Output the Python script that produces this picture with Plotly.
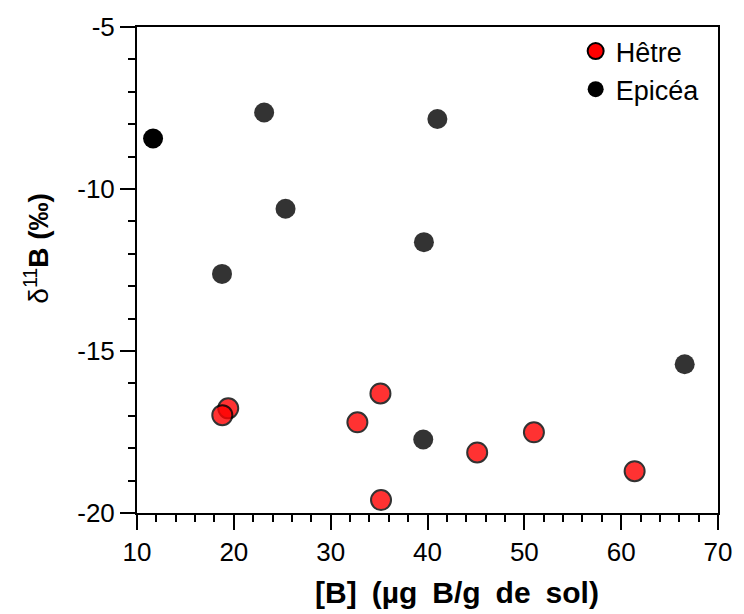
import plotly.graph_objects as go

# Data
hetre_x = [19.42, 18.81, 32.76, 35.14, 35.20, 45.13, 50.99, 61.39]
hetre_y = [-16.77, -16.98, -17.20, -16.31, -19.60, -18.13, -17.51, -18.71]

epicea_x = [11.66, 23.13, 25.34, 18.78, 41.02, 39.63, 39.56, 66.56]
epicea_y = [-8.44, -7.64, -10.61, -12.62, -7.84, -11.64, -17.73, -15.41]

x_ticks = [10, 20, 30, 40, 50, 60, 70]
x_tick_labels = ["10", "20", "30", "40", "50", "60", "70"]
y_ticks = [-20, -15, -10, -5]
y_tick_labels = ["-20", "-15", "-10", "-5"]

series_names = ["Hêtre", "Epicéa"]
x_title = "[B]\u2002(µg\u2002B/g\u2002de\u2002sol)"
y_title = "δ<sup>11</sup><b>B (‰)</b>"

FONT = "Liberation Sans, Arial, Helvetica, sans-serif"

# styles (kept apart from data)
epicea_colors = ["rgba(0,0,0,1)"] + ["rgba(0,0,0,0.8)"] * (len(epicea_x) - 1)

fig = go.Figure()

fig.add_trace(go.Scatter(
    x=epicea_x, y=epicea_y, mode="markers", showlegend=False,
    marker=dict(size=20, color=epicea_colors, line=dict(width=0)),
))
fig.add_trace(go.Scatter(
    x=hetre_x, y=hetre_y, mode="markers", showlegend=False,
    marker=dict(size=20, color="rgb(255,0,0)", opacity=0.8,
                line=dict(width=2, color="black")),
))

# legend-only entries
fig.add_trace(go.Scatter(
    x=[None], y=[None], mode="markers", name=series_names[0], legendgroup="a",
    marker=dict(size=20, color="rgb(255,0,0)", line=dict(width=2, color="black")),
))
fig.add_trace(go.Scatter(
    x=[None], y=[None], mode="markers", name=series_names[1], legendgroup="b",
    marker=dict(size=20, color="black", line=dict(width=0)),
))

axis_common = dict(
    showline=True, linecolor="black", linewidth=2, mirror=True,
    ticks="outside", ticklen=15, tickwidth=2, tickcolor="black",
    showgrid=False, zeroline=False,
    tickfont=dict(family=FONT, size=26, color="black"),
)

fig.update_xaxes(
    range=[10, 70], tickvals=x_ticks, ticktext=x_tick_labels,
    minor=dict(ticks="outside", ticklen=7, tickwidth=2, tickcolor="black", dtick=2, tick0=10, showgrid=False),
    **axis_common,
)
fig.update_yaxes(
    range=[-20, -5], tickvals=y_ticks, ticktext=y_tick_labels,
    minor=dict(ticks="outside", ticklen=7, tickwidth=2, tickcolor="black", dtick=1, tick0=-20, showgrid=False),
    **axis_common,
)

fig.update_layout(
    width=744, height=614,
    margin=dict(l=137, r=19, t=27, b=101),
    paper_bgcolor="white", plot_bgcolor="white",
    font=dict(family=FONT, color="black"),
    showlegend=True,
    legend=dict(
        x=0.755, y=1.0, xanchor="left", yanchor="top",
        xref="paper", yref="paper",
        bgcolor="rgba(0,0,0,0)", borderwidth=0,
        font=dict(family=FONT, size=27, color="black"),
        traceorder="grouped", tracegroupgap=0,
        itemsizing="trace",
    ),
    annotations=[
        dict(text="<b>" + x_title + "</b>", xref="paper", yref="paper",
             x=(461 - 137) / 588, y=-(592 - 513) / 486,
             xanchor="center", yanchor="middle", showarrow=False,
             font=dict(family=FONT, size=30, color="black")),
        dict(text=y_title, xref="paper", yref="paper",
             x=-(137 - 36) / 588, y=(513 - 248.5) / 486,
             xanchor="center", yanchor="middle", showarrow=False, textangle=-90,
             font=dict(family=FONT, size=28, color="black")),
    ],
)

fig.write_html("out.html", config={"displayModeBar": False},
               post_script="document.body.style.margin='0';")
